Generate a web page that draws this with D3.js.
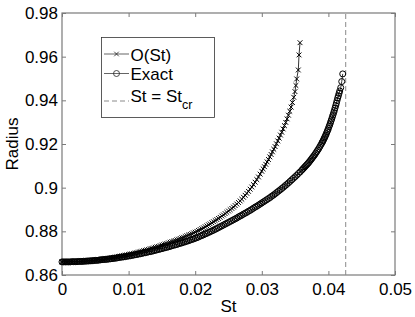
<!DOCTYPE html>
<html>
<head>
<meta charset="utf-8">
<script src="https://cdn.jsdelivr.net/npm/d3@7"></script>
<style>
  body { margin: 0; background: #fff; }
  svg { display: block; font-family: 'Liberation Sans', Arial, sans-serif; }
</style>
</head>
<body>
<div class="chart"></div>
<script>
const xTicks = [0, 0.01, 0.02, 0.03, 0.04, 0.05]
const yTicks = [0.86, 0.88, 0.9, 0.92, 0.94, 0.96, 0.98]
const stCritical = 0.0426
const legendLabels = ['O(St)', 'Exact', 'St = St']

// St values shared by both series up to St = 0.03
const stGrid = [0, 0.00025, 0.0005, 0.00075, 0.001, 0.00125, 0.0015, 0.00175, 0.002, 0.00225,
  0.0025, 0.00275, 0.003, 0.00325, 0.0035, 0.00375, 0.004, 0.00425, 0.0045, 0.00475,
  0.005, 0.00525, 0.0055, 0.00575, 0.006, 0.00625, 0.0065, 0.00675, 0.007, 0.00725,
  0.0075, 0.00775, 0.008, 0.00825, 0.0085, 0.00875, 0.009, 0.00925, 0.0095, 0.00975,
  0.01, 0.01025, 0.0105, 0.01075, 0.011, 0.01125, 0.0115, 0.01175, 0.012, 0.01225,
  0.0125, 0.01275, 0.013, 0.01325, 0.0135, 0.01375, 0.014, 0.01425, 0.0145, 0.01475,
  0.015, 0.01525, 0.0155, 0.01575, 0.016, 0.01625, 0.0165, 0.01675, 0.017, 0.01725,
  0.0175, 0.01775, 0.018, 0.01825, 0.0185, 0.01875, 0.019, 0.01925, 0.0195, 0.01975,
  0.02, 0.02025, 0.0205, 0.02075, 0.021, 0.02125, 0.0215, 0.02175, 0.022, 0.02225,
  0.0225, 0.02275, 0.023, 0.02325, 0.0235, 0.02375, 0.024, 0.02425, 0.0245, 0.02475,
  0.025, 0.02525, 0.0255, 0.02575, 0.026, 0.02625, 0.0265, 0.02675, 0.027, 0.02725,
  0.0275, 0.02775, 0.028, 0.02825, 0.0285, 0.02875, 0.029, 0.02925, 0.0295, 0.02975, 0.03]

const approxStTail = [0.0302, 0.0304, 0.0306, 0.0308, 0.031, 0.0312, 0.0314, 0.0316, 0.0318, 0.032,
  0.0322, 0.0324, 0.0326, 0.0328, 0.033, 0.0332, 0.0334, 0.0336, 0.0338, 0.034,
  0.0342, 0.0344, 0.0346,
  0.0348, 0.03498, 0.03512, 0.03524, 0.03548, 0.03559, 0.03574]
const approxR = [0.8660, 0.8660, 0.8660, 0.8660, 0.8660, 0.8661, 0.8661, 0.8661, 0.8661, 0.8662,
  0.8662, 0.8663, 0.8663, 0.8664, 0.8664, 0.8665, 0.8665, 0.8666, 0.8667, 0.8668,
  0.8669, 0.8669, 0.8670, 0.8671, 0.8672, 0.8673, 0.8674, 0.8675, 0.8677, 0.8678,
  0.8679, 0.8680, 0.8682, 0.8683, 0.8685, 0.8686, 0.8688, 0.8689, 0.8691, 0.8692,
  0.8694, 0.8696, 0.8697, 0.8699, 0.8701, 0.8703, 0.8705, 0.8707, 0.8709, 0.8711,
  0.8713, 0.8715, 0.8717, 0.8720, 0.8722, 0.8724, 0.8727, 0.8729, 0.8731, 0.8734,
  0.8737, 0.8739, 0.8742, 0.8744, 0.8747, 0.8750, 0.8753, 0.8755, 0.8758, 0.8761,
  0.8764, 0.8767, 0.8770, 0.8773, 0.8776, 0.8780, 0.8783, 0.8786, 0.8789, 0.8793,
  0.8796, 0.8800, 0.8804, 0.8808, 0.8812, 0.8816, 0.8821, 0.8825, 0.8830, 0.8834,
  0.8839, 0.8844, 0.8849, 0.8854, 0.8859, 0.8864, 0.8870, 0.8875, 0.8881, 0.8887,
  0.8893, 0.8899, 0.8905, 0.8911, 0.8918, 0.8925, 0.8932, 0.8939, 0.8947, 0.8956,
  0.8965, 0.8974, 0.8983, 0.8993, 0.9003, 0.9014, 0.9025, 0.9037, 0.9049, 0.9062, 0.9075,
  0.9086, 0.9096, 0.9107, 0.9118, 0.9129, 0.9141, 0.9152, 0.9164, 0.9176, 0.9188,
  0.9201, 0.9214, 0.9227, 0.9241, 0.9254, 0.9269, 0.9284, 0.9299, 0.9315, 0.9332,
  0.9350, 0.9369, 0.9390,
  0.9414, 0.9440, 0.9468, 0.9498, 0.9539, 0.9608, 0.9664]

const exactStTail = [0.03025, 0.0305, 0.03075, 0.031, 0.03125, 0.0315, 0.03175, 0.032, 0.03225, 0.0325,
  0.03275, 0.033, 0.03325, 0.0335, 0.03375, 0.034, 0.03425, 0.0345, 0.03475, 0.035,
  0.03525, 0.0355, 0.03575, 0.036,
  0.03615, 0.0363, 0.03645, 0.0366, 0.03675, 0.0369, 0.03705, 0.0372, 0.03735, 0.0375,
  0.03765, 0.0378, 0.03795, 0.0381, 0.03825, 0.0384, 0.03855, 0.0387, 0.03885, 0.039,
  0.0391, 0.0392, 0.0393, 0.0394, 0.0395, 0.0396, 0.0397, 0.0398, 0.0399, 0.04,
  0.0401, 0.0402, 0.0403, 0.0404, 0.0405, 0.0406, 0.0407, 0.0408, 0.0409, 0.041,
  0.0411, 0.0412, 0.0413, 0.0414, 0.0415, 0.0416,
  0.0417, 0.04185, 0.042, 0.04215]
const exactR = [0.8660, 0.8660, 0.8660, 0.8660, 0.8660, 0.8660, 0.8661, 0.8661, 0.8661, 0.8661,
  0.8662, 0.8662, 0.8662, 0.8663, 0.8663, 0.8664, 0.8664, 0.8665, 0.8665, 0.8666,
  0.8667, 0.8667, 0.8668, 0.8669, 0.8670, 0.8671, 0.8671, 0.8672, 0.8673, 0.8674,
  0.8675, 0.8676, 0.8677, 0.8678, 0.8680, 0.8681, 0.8682, 0.8683, 0.8684, 0.8686,
  0.8687, 0.8688, 0.8690, 0.8691, 0.8693, 0.8694, 0.8696, 0.8697, 0.8699, 0.8701,
  0.8702, 0.8704, 0.8706, 0.8707, 0.8709, 0.8711, 0.8713, 0.8715, 0.8717, 0.8719,
  0.8721, 0.8723, 0.8725, 0.8727, 0.8729, 0.8731, 0.8734, 0.8736, 0.8738, 0.8740,
  0.8743, 0.8745, 0.8747, 0.8750, 0.8752, 0.8755, 0.8757, 0.8760, 0.8763, 0.8765,
  0.8768, 0.8771, 0.8774, 0.8778, 0.8781, 0.8784, 0.8788, 0.8791, 0.8795, 0.8798,
  0.8802, 0.8805, 0.8809, 0.8813, 0.8817, 0.8821, 0.8825, 0.8829, 0.8833, 0.8837,
  0.8841, 0.8845, 0.8849, 0.8853, 0.8857, 0.8861, 0.8866, 0.8870, 0.8874, 0.8879,
  0.8883, 0.8887, 0.8892, 0.8896, 0.8901, 0.8906, 0.8911, 0.8915, 0.8920, 0.8925, 0.8930,
  0.8935, 0.8940, 0.8945, 0.8950, 0.8955, 0.8961, 0.8966, 0.8972, 0.8978, 0.8984,
  0.8990, 0.8996, 0.9002, 0.9009, 0.9015, 0.9022, 0.9029, 0.9036, 0.9043, 0.9050,
  0.9057, 0.9065, 0.9072, 0.9080,
  0.9085, 0.9090, 0.9095, 0.9100, 0.9105, 0.9110, 0.9115, 0.9121, 0.9127, 0.9133,
  0.9139, 0.9145, 0.9151, 0.9158, 0.9165, 0.9172, 0.9179, 0.9187, 0.9195, 0.9203,
  0.9209, 0.9215, 0.9221, 0.9228, 0.9234, 0.9241, 0.9248, 0.9256, 0.9263, 0.9271,
  0.9280, 0.9288, 0.9297, 0.9306, 0.9315, 0.9325, 0.9334, 0.9344, 0.9354, 0.9365,
  0.9376, 0.9387, 0.9399, 0.9411, 0.9421, 0.9432,
  0.9443, 0.9458, 0.9486, 0.9521]

;(function draw() {
  const width = 415
  const height = 317
  const margin = { top: 13, right: 20, bottom: 42, left: 62 }
  const fontSize = 17
  const axisColor = '#7a7a7a'
  const markColor = '#000'
  const markWidth = 1

  const toPoints = (xs, ys) => d3.range(Math.min(xs.length, ys.length)).map((i) => [xs[i], ys[i]])
  const approxData = toPoints(stGrid.concat(approxStTail), approxR)
  const exactData = toPoints(stGrid.concat(exactStTail), exactR)

  const x = d3.scaleLinear().domain([0, 0.05]).range([margin.left, width - margin.right])
  const y = d3.scaleLinear().domain([0.86, 0.98]).range([height - margin.bottom, margin.top])

  const svg = d3
    .select('.chart')
    .append('svg')
    .attr('width', width)
    .attr('height', height)
    .attr('viewBox', [0, 0, width, height])

  svg.append('rect').attr('width', width).attr('height', height).attr('fill', '#fff')

  const styleAxis = (g) => {
    g.select('.domain').remove()
    g.selectAll('.tick line').attr('stroke', axisColor)
    g.selectAll('.tick text').attr('fill', '#000').attr('font-size', fontSize)
  }

  svg
    .append('g')
    .attr('transform', `translate(0,${y.range()[0]})`)
    .call(d3.axisBottom(x).tickValues(xTicks).tickFormat(d3.format('')).tickSizeInner(-4).tickSizeOuter(0).tickPadding(8))
    .call(styleAxis)
  svg
    .append('g')
    .attr('transform', `translate(0,${y.range()[1]})`)
    .call(d3.axisTop(x).tickValues(xTicks).tickFormat('').tickSizeInner(-4).tickSizeOuter(0))
    .call(styleAxis)
  svg
    .append('g')
    .attr('transform', `translate(${x.range()[0]},0)`)
    .call(d3.axisLeft(y).tickValues(yTicks).tickFormat(d3.format('')).tickSizeInner(-4).tickSizeOuter(0).tickPadding(4))
    .call(styleAxis)
  svg
    .append('g')
    .attr('transform', `translate(${x.range()[1]},0)`)
    .call(d3.axisRight(y).tickValues(yTicks).tickFormat('').tickSizeInner(-4).tickSizeOuter(0))
    .call(styleAxis)

  // axes box
  svg
    .append('rect')
    .attr('x', x.range()[0])
    .attr('y', y.range()[1])
    .attr('width', x.range()[1] - x.range()[0])
    .attr('height', y.range()[0] - y.range()[1])
    .attr('fill', 'none')
    .attr('stroke', axisColor)
    .attr('stroke-width', 1.2)

  // critical St
  svg
    .append('line')
    .attr('x1', x(stCritical))
    .attr('x2', x(stCritical))
    .attr('y1', y.range()[0])
    .attr('y2', y.range()[1])
    .attr('stroke', '#8a8a8a')
    .attr('stroke-width', 1)
    .attr('stroke-dasharray', '5,3')

  const line = d3.line().x((d) => x(d[0])).y((d) => y(d[1]))
  const cross = (cx, cy, s) => `M${cx - s},${cy - s}L${cx + s},${cy + s}M${cx - s},${cy + s}L${cx + s},${cy - s}`

  const plot = svg.append('g')

  plot
    .append('path')
    .datum(approxData)
    .attr('d', line)
    .attr('fill', 'none')
    .attr('stroke', markColor)
    .attr('stroke-width', 0.8)
  plot
    .selectAll('path.cross')
    .data(approxData)
    .enter()
    .append('path')
    .attr('class', 'cross')
    .attr('d', (d) => cross(x(d[0]), y(d[1]), 2.4))
    .attr('stroke', markColor)
    .attr('stroke-width', markWidth)

  plot
    .append('path')
    .datum(exactData)
    .attr('d', line)
    .attr('fill', 'none')
    .attr('stroke', markColor)
    .attr('stroke-width', 0.8)
  plot
    .selectAll('circle')
    .data(exactData)
    .enter()
    .append('circle')
    .attr('cx', (d) => x(d[0]))
    .attr('cy', (d) => y(d[1]))
    .attr('r', 3)
    .attr('fill', 'none')
    .attr('stroke', markColor)
    .attr('stroke-width', markWidth)

  // legend
  const legend = svg.append('g')
  legend
    .append('rect')
    .attr('x', 101.5)
    .attr('y', 37.5)
    .attr('width', 113)
    .attr('height', 80)
    .attr('fill', '#fff')
    .attr('stroke', '#333')
    .attr('stroke-width', 0.8)

  const rows = [
    { label: legendLabels[0], ly: 54, ty: 60.5, kind: 'cross' },
    { label: legendLabels[1], ly: 73.5, ty: 80, kind: 'circle' },
    { label: legendLabels[2], ly: 101, ty: 102, kind: 'dash' }
  ]
  rows.forEach((r) => {
    legend
      .append('line')
      .attr('x1', 104)
      .attr('x2', 129)
      .attr('y1', r.ly)
      .attr('y2', r.ly)
      .attr('stroke', r.kind === 'dash' ? '#8a8a8a' : '#222')
      .attr('stroke-width', r.kind === 'dash' ? 1 : 0.7)
      .attr('stroke-dasharray', r.kind === 'dash' ? '5,3' : null)
    if (r.kind === 'cross') {
      legend.append('path').attr('d', cross(116.5, r.ly, 2.3)).attr('stroke', '#222').attr('stroke-width', 0.8)
    } else if (r.kind === 'circle') {
      legend.append('circle').attr('cx', 116.5).attr('cy', r.ly).attr('r', 3).attr('fill', 'none').attr('stroke', '#222').attr('stroke-width', 0.8)
    }
    const t = legend.append('text').attr('x', 130.5).attr('y', r.ty).attr('font-size', fontSize).attr('fill', '#000').text(r.label)
    if (r.kind === 'dash') {
      t.append('tspan').attr('dy', 7).attr('font-size', 12.5).text('cr')
    }
  })

  // axis labels
  svg
    .append('text')
    .attr('x', (x.range()[0] + x.range()[1]) / 2)
    .attr('y', 311.5)
    .attr('text-anchor', 'middle')
    .attr('font-size', fontSize)
    .text('St')
  svg
    .append('text')
    .attr('transform', `translate(18,${(y.range()[0] + y.range()[1]) / 2}) rotate(-90)`)
    .attr('text-anchor', 'middle')
    .attr('font-size', fontSize)
    .text('Radius')
})()
</script>
</body>
</html>
